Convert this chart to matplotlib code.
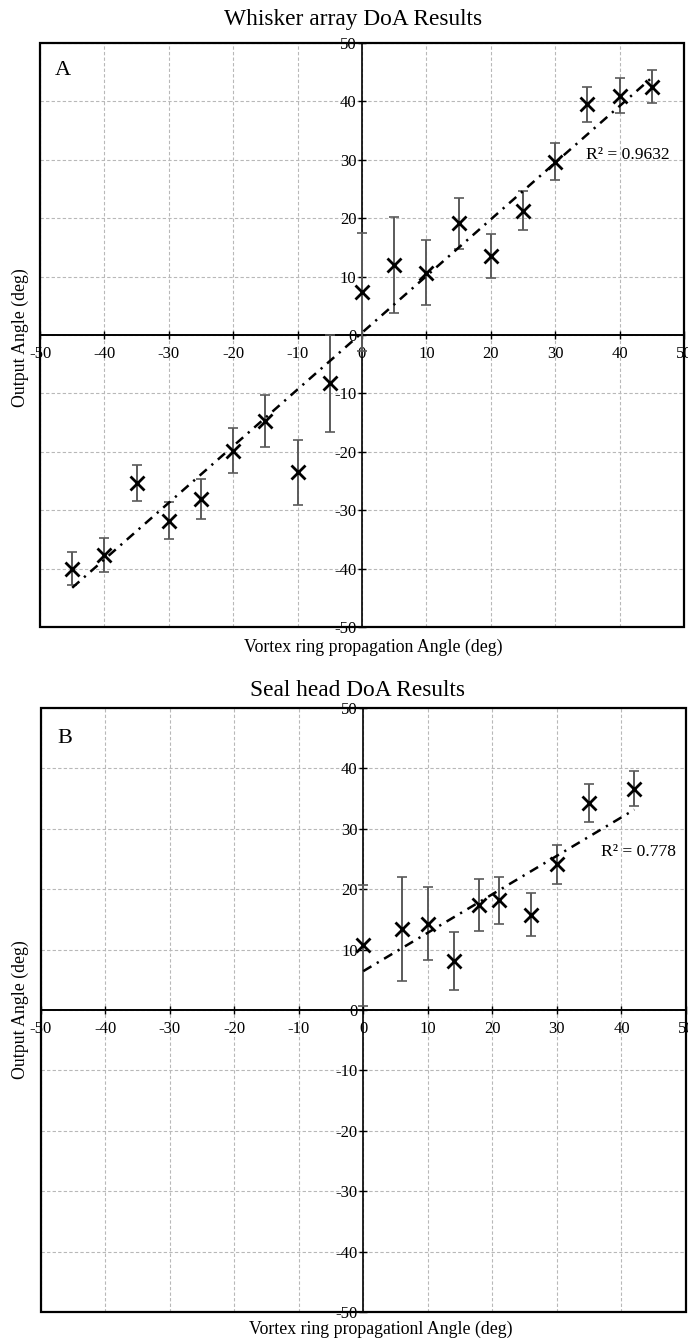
import numpy as np
import matplotlib.pyplot as plt
from matplotlib.patches import Rectangle

plt.rcParams['font.family'] = ['Liberation Serif', 'DejaVu Serif']
plt.rcParams['axes.unicode_minus'] = False

# panel A: whisker array
a_x = [-45, -40, -35, -30, -25, -20, -15, -10, -5, 0, 5, 10, 15, 20, 25, 30, 35, 40, 45]
a_y = [-40.0, -37.7, -25.4, -31.8, -28.1, -19.8, -14.7, -23.5, -8.3, 7.4,
       12.0, 10.7, 19.1, 13.5, 21.3, 29.7, 39.5, 41.0, 42.5]
a_err = [2.8, 2.9, 3.1, 3.2, 3.4, 3.8, 4.4, 5.6, 8.3, 10.1,
         8.2, 5.6, 4.35, 3.8, 3.4, 3.2, 3.05, 2.95, 2.8]
a_r2 = "R² = 0.9632"

# panel B: seal head
b_x = [0, 6, 10, 14, 18, 21, 26, 30, 35, 42]
b_y = [10.7, 13.4, 14.3, 8.1, 17.4, 18.2, 15.8, 24.1, 34.3, 36.6]
b_err = [10.0, 8.6, 6.0, 4.8, 4.3, 3.9, 3.55, 3.3, 3.2, 2.9]
b_r2 = "R² = 0.778"

ticks = [-50, -40, -30, -20, -10, 0, 10, 20, 30, 40, 50]

fig = plt.figure(figsize=(6.88, 13.4), dpi=100)
ax_a = fig.add_axes([40 / 688, 1 - 627 / 1340, 644 / 688, 584 / 1340])
ax_b = fig.add_axes([40.5 / 688, 1 - 1312 / 1340, 645.5 / 688, 604 / 1340])


def draw_panel(ax, xs, ys, errs, r2_text, r2_pos, letter, letter_pos):
    ax.set_xlim(-50, 50)
    ax.set_ylim(-50, 50)
    ax.set_xticks(ticks)
    ax.set_yticks(ticks)
    ax.grid(True, color="#b8b8b8", linestyle=(0, (3, 2)), linewidth=0.8)
    ax.set_axisbelow(True)

    for side in ["top", "right"]:
        ax.spines[side].set_visible(False)
    ax.spines["left"].set_position("zero")
    ax.spines["bottom"].set_position("zero")
    ax.spines["left"].set_linewidth(1.2)
    ax.spines["bottom"].set_linewidth(1.4)
    ax.tick_params(direction="inout", length=6, width=1.0, labelsize=12, pad=1)
    ax.tick_params(axis="x", pad=5)
    ax.add_patch(Rectangle((0, 0), 1, 1, transform=ax.transAxes, fill=False,
                           edgecolor="black", linewidth=1.6, clip_on=False, zorder=5))

    ax.errorbar(xs, ys, yerr=errs, fmt="none", ecolor="#5a5a5a",
                elinewidth=1.4, capsize=3.6, capthick=1.2, zorder=3)
    ax.plot(xs, ys, linestyle="none", marker="x", markersize=10,
            markeredgewidth=2.0, color="black", zorder=4)

    slope, icpt = np.polyfit(xs, ys, 1)
    fx = np.array([min(xs), max(xs)])
    ax.plot(fx, slope * fx + icpt, color="black", linewidth=1.8,
            linestyle=(0, (3.8, 2.5, 0.9, 2.5)), zorder=4)

    ax.text(r2_pos[0], r2_pos[1], r2_text, fontsize=12.6, ha="left", va="center")
    ax.text(letter_pos[0], letter_pos[1], letter, fontsize=16,
            transform=ax.transAxes, va="baseline", ha="left")


draw_panel(ax_a, a_x, a_y, a_err, a_r2, (34.8, 30.8), "A", (0.023, 0.945))
draw_panel(ax_b, b_x, b_y, b_err, b_r2, (36.9, 26.2), "B", (0.0256, 0.942))

fig.text(353 / 688, 1 - 20 / 1340, "Whisker array DoA Results", fontsize=16.8,
         ha="center", va="center")
fig.text(357 / 688, 1 - 690 / 1340, "Seal head DoA Results", fontsize=16.8,
         ha="center", va="center")
fig.text(373 / 688, 1 - 647 / 1340, "Vortex ring propagation Angle (deg)",
         fontsize=12.8, ha="center", va="center")
fig.text(381 / 688, 1 - 1329 / 1340, "Vortex ring propagationl Angle (deg)",
         fontsize=12.8, ha="center", va="center")
fig.text(20 / 688, 1 - 338 / 1340, "Output Angle (deg)", fontsize=12.8,
         rotation=90, ha="center", va="center")
fig.text(20 / 688, 1 - 1010 / 1340, "Output Angle (deg)", fontsize=12.8,
         rotation=90, ha="center", va="center")

fig.savefig("out.png", dpi=100)
